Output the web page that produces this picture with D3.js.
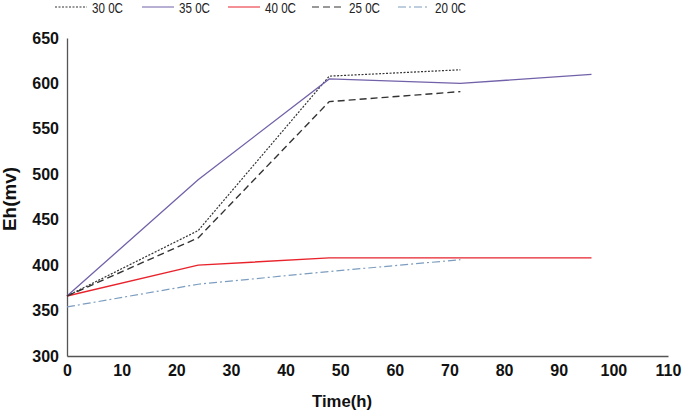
<!DOCTYPE html>
<html><head><meta charset="utf-8">
<script src="https://cdn.jsdelivr.net/npm/d3@7"></script>
<style>body{margin:0;background:#fff}svg{display:block}text{font-family:"Liberation Sans",Arial,sans-serif}</style>
</head><body><svg id="c" width="685" height="412"></svg>
<script>
const times = [0, 24, 48, 72, 96];
const s30 = [366, 438, 608, 615];
const s35 = [366, 494, 605, 600, 610];
const s40 = [366, 400, 408, 408, 408];
const s25 = [366, 430, 580, 591];
const s20 = [354, 379, 393, 406];
const xTicks = [0,10,20,30,40,50,60,70,80,90,100,110];
const yTicks = [300,350,400,450,500,550,600,650];
const series = [
  {name:"30 0C", values:s30, color:"#333", dash:"2,1.5", w:1.2},
  {name:"35 0C", values:s35, color:"#7261a9", dash:null, w:1.3},
  {name:"40 0C", values:s40, color:"#e8232c", dash:null, w:1.4},
  {name:"25 0C", values:s25, color:"#333", dash:"7,4", w:1.4},
  {name:"20 0C", values:s20, color:"#7c9dbf", dash:"8,3,2,3", w:1.2}
];
const svg = d3.select("#c");
const x = d3.scaleLinear().domain([0,110]).range([67,668]);
const y = d3.scaleLinear().domain([300,650]).range([356,38]);
const ax = svg.append("g").attr("transform","translate(0,356)")
  .call(d3.axisBottom(x).tickValues(xTicks).tickSize(0).tickPadding(9));
const ay = svg.append("g").attr("transform","translate(67,0)")
  .call(d3.axisLeft(y).tickValues(yTicks).tickSize(0).tickPadding(8));
[ax,ay].forEach(a=>{
  a.select(".domain").attr("stroke","#555").attr("stroke-width",1.3);
  a.selectAll("text").attr("font-size",16).attr("font-weight","bold").attr("fill","#111");
});
const line = d3.line().x((d,i)=>x(times[i])).y(d=>y(d));
series.forEach(s=>{
  svg.append("path").attr("d",line(s.values)).attr("fill","none")
    .attr("stroke",s.color).attr("stroke-width",s.w)
    .attr("stroke-dasharray",s.dash);
});
svg.append("text").attr("x",342).attr("y",407).attr("text-anchor","middle")
  .attr("font-size",17).attr("font-weight","bold").attr("fill","#111")
  .attr("textLength",60).attr("lengthAdjust","spacingAndGlyphs").text("Time(h)");
svg.append("text").attr("transform","translate(16,199) rotate(-90)").attr("text-anchor","middle")
  .attr("font-size",18).attr("font-weight","bold").attr("fill","#111")
  .attr("textLength",64).attr("lengthAdjust","spacingAndGlyphs").text("Eh(mv)");
const lx = [55,142,228,312,398];
const lg = svg.append("g");
series.forEach((s,i)=>{
  lg.append("line").attr("x1",lx[i]).attr("x2",lx[i]+32).attr("y1",7).attr("y2",7)
    .attr("stroke",s.color).attr("stroke-width",1).attr("stroke-dasharray",s.dash);
  lg.append("text").attr("x",lx[i]+37).attr("y",13).attr("font-size",14)
    .attr("fill","#222").attr("textLength",31).attr("lengthAdjust","spacingAndGlyphs").text(s.name);
});
</script></body></html>
